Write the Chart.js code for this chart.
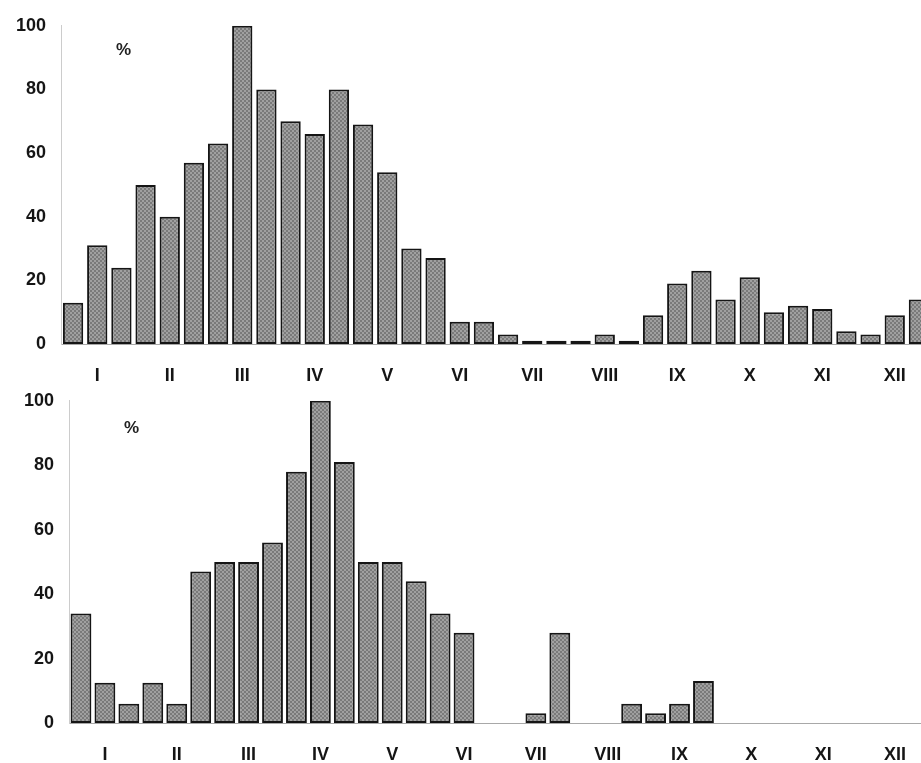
<!DOCTYPE html>
<html>
<head>
<meta charset="utf-8">
<script src="https://cdn.jsdelivr.net/npm/chart.js@4.4.1/dist/chart.umd.min.js"></script>
<style>
  html, body { margin: 0; padding: 0; background: #fff; }
  body { width: 921px; height: 763px; overflow: hidden; position: relative; }
  canvas { position: absolute; left: 0; }
  #top { top: 0; }
  #bottom { top: 375px; }
  .pct { position: absolute; font: bold 17px "Liberation Sans", Arial, sans-serif; color: #222; }
</style>
</head>
<body>
<canvas id="top" width="940" height="390"></canvas>
<canvas id="bottom" width="940" height="388"></canvas>
<span class="pct" style="left:116px;top:40px">%</span>
<span class="pct" style="left:124px;top:418px">%</span>
<script>
var months = ['I','II','III','IV','V','VI','VII','VIII','IX','X','XI','XII'];
var yTicks = [0, 20, 40, 60, 80, 100];

// three bars per month
var topValues = [13, 31, 24, 50, 40, 57, 63, 100, 80, 70, 66, 80, 69, 54, 30, 27, 7, 7,
                 3, 1, 1, 1, 3, 1, 9, 19, 23, 14, 21, 10, 12, 11, 4, 3, 9, 14];
var bottomValues = [34, 12.5, 6, 12.5, 6, 47, 50, 50, 56, 78, 100, 81, 50, 50, 44, 34, 28, 0,
                    0, 3, 28, 0, 0, 6, 3, 6, 13, 0, 0, 0, 0, 0, 0, 0, 0, 0];

var labels = [];
for (var i = 0; i < months.length * 3; i++) labels.push(months[Math.floor(i / 3)]);

// small checker fill like the printed hatching
function hatch() {
  var c = document.createElement('canvas');
  c.width = 4; c.height = 4;
  var g = c.getContext('2d');
  g.fillStyle = '#a0a0a0';
  g.fillRect(0, 0, 4, 4);
  g.fillStyle = '#7a7a7a';
  g.fillRect(0, 0, 2, 2);
  g.fillRect(2, 2, 2, 2);
  return g.createPattern(c, 'repeat');
}

var font = { family: '"Liberation Sans", Arial, sans-serif', size: 18, weight: 'bold' };

function makeChart(id, values, opts) {
  return new Chart(document.getElementById(id), {
    type: 'bar',
    data: {
      labels: labels,
      datasets: [{
        data: values,
        backgroundColor: hatch(),
        borderColor: '#151515',
        borderWidth: 2,
        borderSkipped: false,
        barPercentage: opts.barPct,
        categoryPercentage: 1
      }]
    },
    options: {
      responsive: false,
      animation: false,
      layout: { padding: { top: opts.padTop, right: opts.padRight, bottom: 0, left: 0 } },
      plugins: { legend: { display: false }, tooltip: { enabled: false } },
      scales: {
        x: {
          grid: { display: false, drawTicks: false },
          border: { display: true, color: '#a8a8a8', width: 1, dash: [5, 4] },
          ticks: {
            color: '#151515', font: font, padding: 21,
            autoSkip: false, maxRotation: 0,
            callback: function(v, i) { return i % 3 === 1 ? labels[i] : ''; }
          },
          afterFit: function(s) { s.height = opts.xHeight; }
        },
        y: {
          min: 0, max: 100,
          grid: { display: false, drawTicks: false },
          border: { display: true, color: '#cccccc', width: 1, dash: [3, 3] },
          afterBuildTicks: function(s) { s.ticks = yTicks.map(function(v) { return { value: v }; }); },
          ticks: { color: '#151515', font: font, padding: 15 },
          afterFit: function(s) { s.width = opts.yWidth; }
        }
      }
    }
  });
}

makeChart('top', topValues, { barPct: 0.84, padTop: 24, padRight: 6, xHeight: 46, yWidth: 61 });
makeChart('bottom', bottomValues, { barPct: 0.87, padTop: 18, padRight: 4, xHeight: 40, yWidth: 69 });
</script>
</body>
</html>
